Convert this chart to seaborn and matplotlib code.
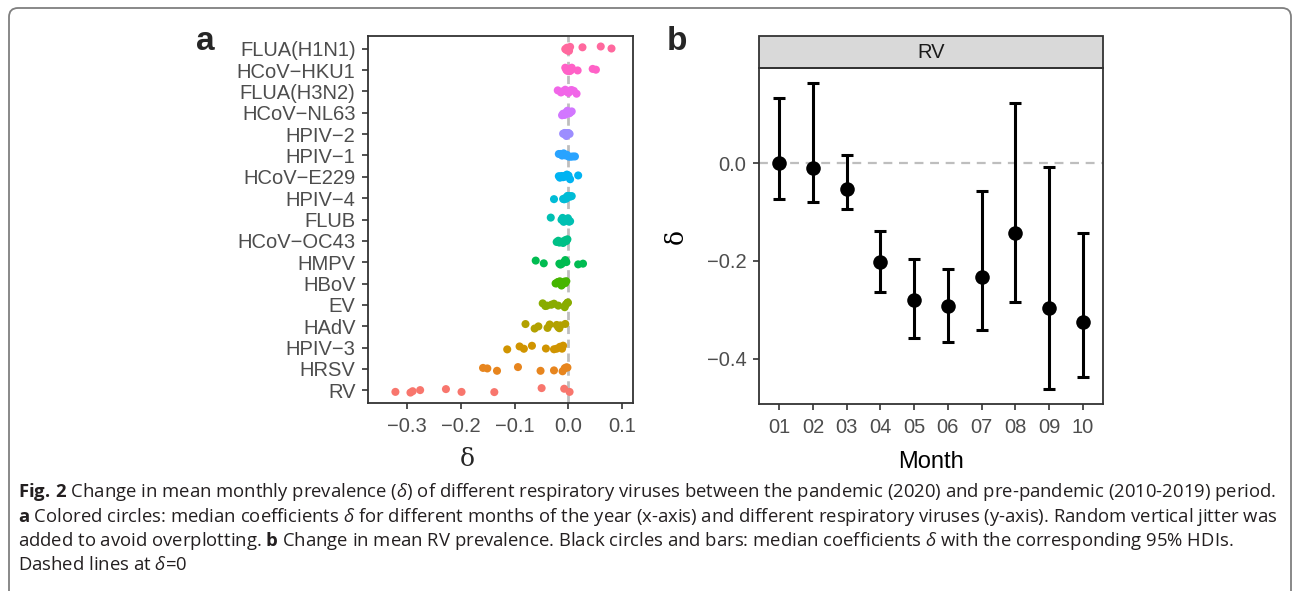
import numpy as np
import pandas as pd
import matplotlib
matplotlib.use("Agg")
import matplotlib.pyplot as plt
from matplotlib.patches import FancyBboxPatch, Rectangle
import seaborn as sns

# panel a: median delta per month for each virus (top row first)
viruses = ["FLUA(H1N1)", "HCoV-HKU1", "FLUA(H3N2)", "HCoV-NL63", "HPIV-2", "HPIV-1",
           "HCoV-E229", "HPIV-4", "FLUB", "HCoV-OC43", "HMPV", "HBoV", "EV", "HAdV",
           "HPIV-3", "HRSV", "RV"]
flua_h1n1 = [-0.006, -0.004, -0.003, -0.002, -0.001, 0.001, 0.003, 0.026, 0.060, 0.080]
hcov_hku1 = [-0.006, -0.004, -0.002, -0.001, 0.002, 0.004, 0.006, 0.017, 0.045, 0.051]
flua_h3n2 = [-0.020, -0.014, -0.010, -0.006, -0.003, 0.000, 0.003, 0.006, 0.010, 0.015]
hcov_nl63 = [-0.012, -0.010, -0.008, -0.006, -0.004, -0.002, 0.000, 0.002, 0.004, 0.006]
hpiv_2 = [-0.010, -0.008, -0.007, -0.006, -0.005, -0.004, -0.003, -0.002, 0.000, 0.002]
hpiv_1 = [-0.018, -0.015, -0.012, -0.009, -0.006, -0.003, 0.000, 0.004, 0.008, 0.012]
hcov_e229 = [-0.018, -0.016, -0.013, -0.010, -0.008, -0.006, -0.003, 0.000, 0.003, 0.018]
hpiv_4 = [-0.027, -0.010, -0.008, -0.006, -0.004, -0.002, 0.000, 0.002, 0.004, 0.006]
flub = [-0.033, -0.013, -0.011, -0.009, -0.007, -0.005, -0.003, -0.001, 0.001, 0.003]
hcov_oc43 = [-0.022, -0.019, -0.017, -0.014, -0.012, -0.010, -0.008, -0.006, -0.004, -0.002]
hmpv = [-0.061, -0.046, -0.017, -0.015, -0.013, -0.009, -0.006, -0.004, 0.018, 0.027]
hbov = [-0.024, -0.022, -0.020, -0.018, -0.016, -0.013, -0.011, -0.008, -0.006, -0.004]
ev = [-0.048, -0.043, -0.040, -0.032, -0.027, -0.019, -0.007, -0.005, -0.002, -0.001]
hadv = [-0.080, -0.063, -0.056, -0.039, -0.035, -0.022, -0.019, -0.017, -0.015, -0.006]
hpiv_3 = [-0.114, -0.091, -0.083, -0.068, -0.042, -0.027, -0.022, -0.016, -0.012, -0.010]
hrsv = [-0.159, -0.151, -0.133, -0.094, -0.052, -0.027, -0.011, -0.007, -0.004, -0.002]
rv = [-0.322, -0.294, -0.290, -0.276, -0.228, -0.199, -0.138, -0.050, -0.008, 0.002]
virus_values = [flua_h1n1, hcov_hku1, flua_h3n2, hcov_nl63, hpiv_2, hpiv_1, hcov_e229,
                hpiv_4, flub, hcov_oc43, hmpv, hbov, ev, hadv, hpiv_3, hrsv, rv]

# panel b: RV medians and 95% HDIs by month
months = ["01", "02", "03", "04", "05", "06", "07", "08", "09", "10"]
rv_median = [0.000, -0.010, -0.053, -0.202, -0.280, -0.292, -0.233, -0.143, -0.296, -0.324]
rv_lower = [-0.073, -0.080, -0.094, -0.263, -0.357, -0.365, -0.341, -0.284, -0.461, -0.437]
rv_upper = [0.133, 0.163, 0.016, -0.139, -0.196, -0.216, -0.057, 0.122, -0.008, -0.143]

caption_lines = [
    r"$\mathbf{Fig.\,2}$ Change in mean monthly prevalence ($\delta$) of different respiratory viruses between the pandemic (2020) and pre-pandemic (2010-2019) period.",
    r"$\mathbf{a}$ Colored circles: median coefficients $\delta$ for different months of the year (x-axis) and different respiratory viruses (y-axis). Random vertical jitter was",
    r"added to avoid overplotting. $\mathbf{b}$ Change in mean RV prevalence. Black circles and bars: median coefficients $\delta$ with the corresponding 95% HDIs.",
    r"Dashed lines at $\delta$=0",
]


def hcl_hex(h, c=100, l=65):
    # R's hcl() (polar Luv, D65) -> sRGB hex, like ggplot's hue palette
    hr = np.deg2rad(h)
    u, v = c * np.cos(hr), c * np.sin(hr)
    Y = ((l + 16) / 116) ** 3
    up = u / (13 * l) + 0.1978398
    vp = v / (13 * l) + 0.4683363
    X = 9 * Y * up / (4 * vp)
    Z = -X / 3 - 5 * Y + 3 * Y / vp
    rgb = np.array([3.240479 * X - 1.537150 * Y - 0.498535 * Z,
                    -0.969256 * X + 1.875992 * Y + 0.041556 * Z,
                    0.055648 * X - 0.204043 * Y + 1.057311 * Z])
    rgb = np.where(rgb > 0.00304, 1.055 * np.abs(rgb) ** (1 / 2.4) - 0.055, 12.92 * rgb)
    rgb = np.clip(rgb, 0, 1)
    return matplotlib.colors.to_hex(rgb)


n = len(viruses)
hues = np.linspace(15, 375, n + 1)[:-1]
# ggplot level order runs bottom (RV) to top
palette = {v: hcl_hex(hues[n - 1 - i]) for i, v in enumerate(viruses)}

df_a = pd.DataFrame({
    "virus": np.repeat(viruses, [len(x) for x in virus_values]),
    "delta": np.concatenate(virus_values),
})
df_b = pd.DataFrame({"month": months, "median": rv_median, "lower": rv_lower, "upper": rv_upper})

sns.set_style("white")
plt.rcParams["font.family"] = ["Liberation Sans", "DejaVu Sans"]
plt.rcParams["mathtext.fontset"] = "custom"
plt.rcParams["mathtext.rm"] = "Open Sans"
plt.rcParams["mathtext.it"] = "Open Sans:italic"
plt.rcParams["mathtext.bf"] = "Open Sans:bold"

W, H = 1292, 591
fig = plt.figure(figsize=(W / 100, H / 100), dpi=100)


def px_axes(x0, y0, x1, y1):
    return fig.add_axes([x0 / W, 1 - y1 / H, (x1 - x0) / W, (y1 - y0) / H])


spine_col = "#333333"
tick_col = "#4D4D4D"

# ---- panel a
ax_a = px_axes(368, 36, 633, 403)
ax_a.axvline(0, color="#BEBEBE", lw=2, ls=(0, (3, 2)), zorder=0)
np.random.seed(3)
sns.stripplot(data=df_a, x="delta", y="virus", order=viruses, hue="virus",
              palette=palette, legend=False, jitter=0.12, size=5.8, linewidth=0,
              ax=ax_a, zorder=3)
ax_a.set_xlim(-0.373, 0.12)
ax_a.set_ylim(n - 1 + 0.6, -0.6)
ax_a.set_xticks([-0.3, -0.2, -0.1, 0.0, 0.1])
ax_a.set_xticklabels(["\u22120.3", "\u22120.2", "\u22120.1", "0.0", "0.1"])
ax_a.set_yticks(range(n))
ax_a.set_yticklabels([v.replace("-", "\u2212") for v in viruses])
ax_a.set_xlabel("")
ax_a.set_ylabel("")

# ---- panel b
ax_b = px_axes(759, 68, 1103, 404)
ax_b.axhline(0, color="#BEBEBE", lw=1.6, ls=(0, (4, 3)), zorder=0)
xpos = np.arange(len(months))
ax_b.errorbar(xpos, df_b["median"],
              yerr=[df_b["median"] - df_b["lower"], df_b["upper"] - df_b["median"]],
              fmt="none", ecolor="black", elinewidth=2.2, capsize=4.5, capthick=2.2, zorder=2)
sns.scatterplot(data=df_b, x="month", y="median", color="black", s=110, linewidth=0,
                ax=ax_b, zorder=3)
ax_b.set_xlim(-0.6, len(months) - 1 + 0.6)
ax_b.set_ylim(-0.492, 0.194)
ax_b.set_yticks([0.0, -0.2, -0.4])
ax_b.set_yticklabels(["0.0", "\u22120.2", "\u22120.4"])
ax_b.set_xticks(xpos)
ax_b.set_xticklabels(months)
ax_b.set_xlabel("Month", fontsize=17, color="black", labelpad=10)
ax_b.set_ylabel("\u03b4", fontsize=18, family="DejaVu Serif", color="black", labelpad=14)

# facet strip
strip_h = (68.3 - 36.7) / (404 - 68)
ax_b.add_patch(Rectangle((0, 1), 1, strip_h, transform=ax_b.transAxes, clip_on=False,
                         facecolor="#D9D9D9", edgecolor=spine_col, lw=1.3))
ax_b.text(0.5, 1 + strip_h / 2, "RV", transform=ax_b.transAxes, ha="center", va="center",
          fontsize=14.5, color="#1A1A1A")

for ax in (ax_a, ax_b):
    for sp in ax.spines.values():
        sp.set_visible(True)
        sp.set_color(spine_col)
        sp.set_linewidth(1.3)
    ax.tick_params(axis="both", which="both", length=4, width=1.2, color=spine_col,
                   labelcolor=tick_col, labelsize=14.5, bottom=True, left=True)
    ax.tick_params(axis="x", pad=6)
    ax.tick_params(axis="y", pad=5)
    ax.grid(False)

fig.text(467 / W, 1 - 459 / H, "\u03b4", fontsize=18, family="DejaVu Serif",
         ha="center", va="center")

# panel letters
fig.text(205 / W, 1 - 42 / H, "a", fontsize=24, fontweight="bold", ha="center", va="center")
fig.text(677 / W, 1 - 42 / H, "b", fontsize=24, fontweight="bold", ha="center", va="center")

# caption
for i, line in enumerate(caption_lines):
    fig.text(18 / W, 1 - (497 + 24.5 * i) / H, line, fontsize=13.3, family="Open Sans",
             color="#231F20", ha="left", va="baseline")

# outer frame (top and left visible)
fig.add_artist(FancyBboxPatch((0.09, -0.5), 12.82, 5.83 + 0.5,
                              boxstyle="round,pad=0,rounding_size=0.09",
                              transform=fig.dpi_scale_trans, facecolor="none",
                              edgecolor="#7F7F7F", lw=1.3))

fig.savefig("out.png", dpi=100)
